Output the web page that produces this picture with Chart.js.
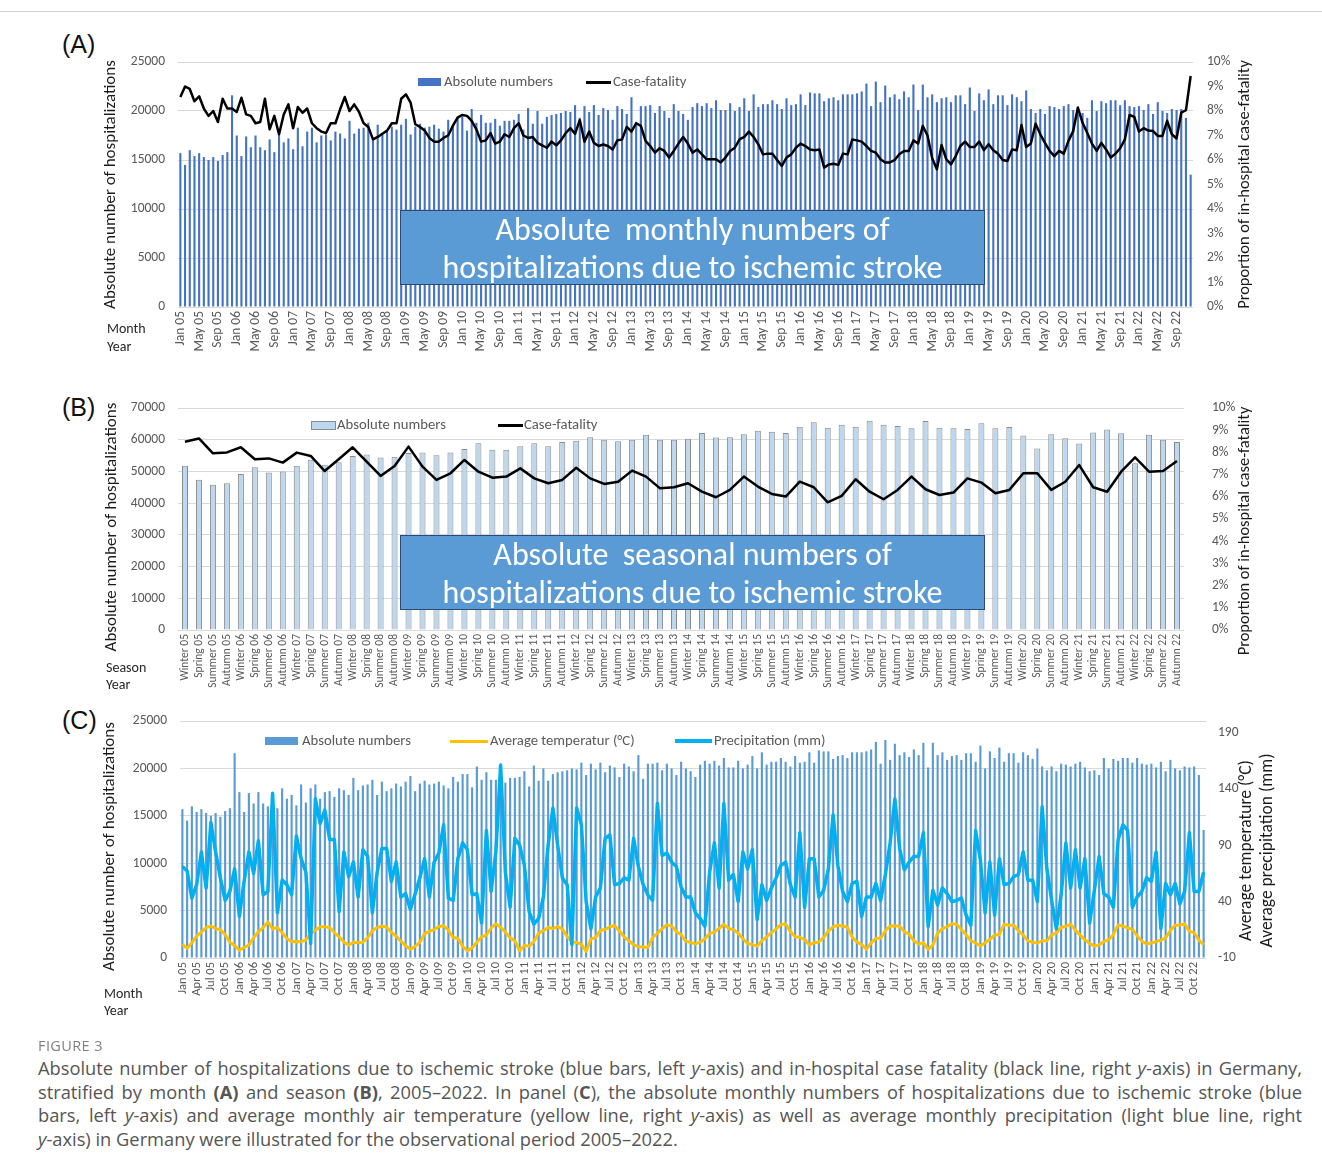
<!DOCTYPE html>
<html lang="en">
<head>
<meta charset="UTF-8">
<title>Ischemic stroke hospitalizations, Germany 2005-2022</title>
<style>
  html, body { margin: 0; padding: 0; background: #fff; }
  #page { position: relative; width: 1322px; height: 1162px; overflow: hidden; font-family: Calibri, Carlito, Lato, sans-serif; }
  canvas { position: absolute; left: 0; }
  .abs { position: absolute; white-space: nowrap; }
  .letter { font-family: "Liberation Sans", Arial, sans-serif; font-size: 25px; color: #111; }
  .small { font-size: 14px; color: #262626; line-height: 17px; }
  .leg { font-size: 14.7px; color: #595959; line-height: 17px; }
  .box { position: absolute; left: 400px; width: 583px; height: 73px; background: #5b9bd5; border: 1.5px solid #2b4a78;
         color: #fff; font-size: 32px; line-height: 38px; text-align: center; white-space: pre; z-index: 5; }
  .cap { position: absolute; left: 38px; width: 1264px; font-family: "Open Sans", sans-serif; color: #555; }
  .cap div { font-size: 18.3px; line-height: 23.7px; text-align: justify; text-align-last: justify; white-space: nowrap; }
  .cap div.last { text-align-last: left; }
</style>
</head>
<body>
<div id="page">
  <div class="abs" style="left:0;top:11px;width:1322px;height:1px;background:#d0d0d0"></div>

  <div class="abs letter" style="left:62px;top:30px">(A)</div>
  <div class="abs letter" style="left:62px;top:393px">(B)</div>
  <div class="abs letter" style="left:62px;top:706px">(C)</div>

  <canvas id="chartA" width="1322" height="345" style="top:22px"></canvas>
  <canvas id="chartB" width="1322" height="322" style="top:368px"></canvas>
  <canvas id="chartC" width="1322" height="327" style="top:681px"></canvas>

  <div class="abs small" style="left:107px;top:320px">Month</div>
  <div class="abs small" style="left:107px;top:338px">Year</div>
  <div class="abs small" style="left:106px;top:659px">Season</div>
  <div class="abs small" style="left:106px;top:676px">Year</div>
  <div class="abs small" style="left:104px;top:985px">Month</div>
  <div class="abs small" style="left:104px;top:1002px">Year</div>

  <!-- legends -->
  <div class="abs" style="left:418px;top:78px;width:23px;height:8px;background:#4472c4"></div>
  <div class="abs leg" style="left:444px;top:73px">Absolute numbers</div>
  <div class="abs" style="left:586px;top:81px;width:25px;height:2.5px;background:#000"></div>
  <div class="abs leg" style="left:613px;top:73px">Case-fatality</div>

  <div class="abs" style="left:311px;top:421px;width:23px;height:7px;background:#bdd7ee;border:1px solid #8a8a8a"></div>
  <div class="abs leg" style="left:337px;top:416px">Absolute numbers</div>
  <div class="abs" style="left:498px;top:424px;width:25px;height:2.5px;background:#000"></div>
  <div class="abs leg" style="left:524px;top:416px">Case-fatality</div>

  <div class="abs" style="left:265px;top:737px;width:33px;height:8px;background:#5b9bd5"></div>
  <div class="abs leg" style="left:302px;top:732px">Absolute numbers</div>
  <div class="abs" style="left:450px;top:740px;width:38px;height:3px;background:#ffc000"></div>
  <div class="abs leg" style="left:490px;top:732px">Average temperatur (°C)</div>
  <div class="abs" style="left:675px;top:739px;width:37px;height:4px;background:#00b0f0"></div>
  <div class="abs leg" style="left:714px;top:732px">Precipitation (mm)</div>

  <div class="box" style="top:210px">Absolute  monthly numbers of
hospitalizations due to ischemic stroke</div>
  <div class="box" style="top:535px">Absolute  seasonal numbers of
hospitalizations due to ischemic stroke</div>

  <div class="abs" style="left:38px;top:1036px;font-family:'Open Sans',sans-serif;font-size:14.5px;color:#808080;letter-spacing:0.4px">FIGURE 3</div>
  <div class="cap" style="top:1056px">
    <div>Absolute number of hospitalizations due to ischemic stroke (blue bars, left <i>y</i>-axis) and in-hospital case fatality (black line, right <i>y</i>-axis) in Germany,</div>
    <div>stratified by month <b>(A)</b> and season <b>(B)</b>, 2005–2022. In panel (<b>C</b>), the absolute monthly numbers of hospitalizations due to ischemic stroke (blue</div>
    <div>bars, left <i>y</i>-axis) and average monthly air temperature (yellow line, right <i>y</i>-axis) as well as average monthly precipitation (light blue line, right</div>
    <div class="last"><i>y</i>-axis) in Germany were illustrated for the observational period 2005–2022.</div>
  </div>
</div>

<script src="https://cdn.jsdelivr.net/npm/chart.js@4.4.1/dist/chart.umd.min.js"></script>
<script>
// ---- categories ----
var monthAbbr = ['Jan','Feb','Mar','Apr','May','Jun','Jul','Aug','Sep','Oct','Nov','Dec'];
var seasonNames = ['Winter','Spring','Summer','Autumn'];
var yearLabels = ['05','06','07','08','09','10','11','12','13','14','15','16','17','18','19','20','21','22'];

// ---- monthly hospitalizations (panels A and C) ----
var hospMonthly = [
  15700,14500,16000,15400,15700,15300,15000,15300,14900,15500,15800,21600,
  17500,15400,17400,16300,17500,16300,16000,17100,15800,17900,16800,17200,
  16100,18300,16400,17900,18300,16800,17500,17600,17000,17900,17700,17200,
  19000,17700,18200,18300,18800,17200,18600,17600,17900,18400,18100,18600,
  19200,17600,18400,18700,18300,18400,18600,18200,17900,19100,18600,19400,
  19400,18000,20200,18800,19600,18800,18800,19200,18500,19000,19000,19100,
  19700,18100,20300,18700,20000,18700,19400,19600,19700,19800,20000,19900,
  20600,19300,20500,19900,20600,19600,20300,20100,19100,20500,20200,19700,
  21400,18900,20500,20500,20600,19800,20500,20000,19300,20700,20000,19700,
  19100,20400,20800,20500,20800,20300,21100,20100,20100,20800,20000,20400,
  21300,20000,21700,20400,20700,20700,21100,20700,20200,21300,20600,20700,
  21700,20600,21900,21800,21800,21000,21300,21400,21100,21700,21700,21700,
  21800,22000,22800,20500,23000,20900,22600,21400,21700,21200,22000,21400,
  22700,20100,22700,21400,21700,20900,21300,21400,20900,21600,21600,20700,
  22400,20000,21800,21100,22200,20700,21600,21600,20600,21700,21400,21000,
  22100,20200,19800,20200,19700,20500,20400,20200,20500,20700,20100,19700,
  19800,19300,21100,20000,21000,20800,21100,21100,20600,21100,20500,20400,
  20500,20100,20700,19700,20900,20000,19800,20200,20100,20200,19300,13500
];

// ---- monthly in-hospital case-fatality, % (panel A) ----
var cfMonthly = [
  8.57,9.0,8.9,8.4,8.6,8.1,7.8,8.0,7.55,8.5,8.1,8.1,
  7.96,8.54,7.86,7.8,7.5,7.55,8.5,7.25,7.8,7.05,7.86,8.27,
  7.3,8.16,7.93,8.1,7.5,7.3,7.16,7.1,7.5,7.5,8.07,8.57,
  8.0,8.27,7.97,7.5,7.35,6.84,6.94,7.07,7.2,7.5,7.5,8.5,
  8.68,8.34,7.46,7.35,7.2,6.9,6.75,6.75,6.9,7.0,7.4,7.73,
  7.84,7.8,7.6,7.25,6.75,6.8,7.1,6.67,6.75,7.05,6.94,7.3,
  7.5,7.0,6.9,6.94,6.7,6.6,6.5,6.75,6.6,6.8,7.1,7.3,
  7.07,7.63,6.75,7.16,6.7,6.57,6.63,6.57,6.43,6.8,6.84,7.35,
  7.16,7.5,7.39,6.78,6.57,6.3,6.48,6.37,6.1,6.37,6.67,6.94,
  6.67,6.3,6.43,6.23,6.03,6.03,6.03,5.9,6.1,6.37,6.5,6.84,
  6.94,7.16,6.94,6.64,6.23,6.26,6.26,6.0,5.76,6.1,6.23,6.5,
  6.67,6.57,6.43,6.4,6.43,5.69,5.82,5.85,5.8,6.26,6.23,6.84,
  6.8,6.75,6.57,6.37,6.3,6.03,5.9,5.9,6.0,6.23,6.37,6.37,
  6.8,6.67,7.39,7.0,6.07,5.62,6.61,6.03,5.82,6.16,6.57,6.75,
  6.53,6.53,6.75,6.4,6.64,6.4,6.26,6.0,5.96,6.43,6.4,7.43,
  6.53,6.67,7.48,7.05,6.7,6.37,6.16,6.37,6.26,6.78,7.18,8.14,
  7.52,7.1,6.67,6.37,6.7,6.43,6.1,6.26,6.48,6.84,7.84,7.76,
  7.16,7.3,7.2,7.18,6.98,6.98,7.6,7.05,6.88,7.93,8.03,9.43
];

// ---- seasonal hospitalizations and case-fatality (panel B) ----
var hospSeason = [
  51800,47400,45800,46300, 49200,51300,49700,50000, 51800,53700,52100,52900,
  54900,55300,54400,54600, 55800,56000,55100,56000, 57100,58900,56800,56800,
  57900,58900,57900,59300, 59700,60800,60000,59500, 60000,61600,60000,60000,
  60300,62100,60700,60800, 61700,62800,62500,62100, 64100,65500,63800,64700,
  64100,66000,64700,64300, 63600,65900,63800,63600, 63400,65200,63600,64000,
  61300,57200,61700,60500, 58800,62300,63200,62000, 52600,61600,60000,59300
];
var cfSeason = [
  8.48,8.63,7.96,8.0, 8.23,7.69,7.73,7.54, 7.99,7.84,7.16,7.69,
  8.23,7.58,6.94,7.39, 8.26,7.36,6.76,7.06, 7.66,7.13,6.86,6.91,
  7.28,6.83,6.61,6.76, 7.31,6.83,6.58,6.68, 7.18,6.91,6.38,6.43,
  6.61,6.23,5.98,6.31, 6.91,6.46,6.13,6.01, 6.68,6.43,5.75,6.04,
  6.79,6.23,5.89,6.31, 6.91,6.34,6.08,6.19, 6.83,6.64,6.16,6.31,
  7.06,7.06,6.31,6.68, 7.43,6.43,6.23,7.13, 7.78,7.13,7.16,7.61
];

// ---- monthly weather (panel C) ----
var tempMonthly = [
  2.0,-1.4,3.5,9.5,12.9,16.9,18.3,16.1,15.1,10.7,4.0,1.0,
  -3.0,-0.7,1.4,8.0,13.2,16.9,22.0,15.8,17.0,12.4,7.3,4.4,
  4.7,4.5,6.0,11.6,14.6,17.8,17.7,17.0,12.6,8.6,4.1,1.3,
  3.9,3.6,4.0,7.9,14.3,16.9,18.1,17.4,12.7,9.3,4.9,0.9,
  -2.2,0.2,4.0,11.6,13.6,15.2,18.0,18.6,14.7,8.1,7.6,0.4,
  -3.6,-1.0,4.0,8.8,10.2,16.6,20.3,17.2,12.9,7.8,5.3,-3.6,
  1.1,0.3,4.6,11.9,14.2,17.0,16.1,17.8,15.6,9.2,4.1,3.8,
  2.0,-4.1,6.9,8.1,14.5,15.2,17.7,18.8,13.9,8.8,5.3,1.7,
  0.0,-0.3,-0.8,8.3,11.8,16.0,19.5,18.3,13.3,10.7,4.7,3.7,
  2.5,4.0,7.0,11.8,12.9,16.3,19.9,16.2,15.1,12.2,7.1,2.8,
  1.9,0.5,5.3,8.7,12.6,15.8,19.7,20.2,13.4,8.8,8.3,6.4,
  1.6,3.6,4.2,8.0,14.0,17.5,19.1,18.2,17.4,8.5,4.2,1.9,
  -2.2,3.4,7.4,7.6,14.2,18.2,18.5,18.2,13.2,11.1,5.2,2.3,
  3.6,-2.4,1.4,12.1,16.0,17.6,20.3,20.0,15.3,10.6,5.1,3.4,
  0.6,3.5,6.6,10.3,10.9,19.8,19.0,19.0,14.1,10.4,5.2,3.9,
  3.3,5.3,5.2,10.5,12.2,17.1,18.1,20.0,14.7,10.3,6.3,2.8,
  0.5,1.5,4.6,6.1,10.9,19.3,18.3,16.6,15.6,9.6,4.8,2.6,
  3.2,4.6,5.7,7.9,14.3,19.0,19.3,20.4,13.6,12.6,6.0,1.8
];
var precipMonthly = [
  71,67,43,55,84,52,110,84,61,41,49,69,
  27,58,84,65,94,46,49,136,30,59,55,46,
  98,78,66,3,131,109,121,95,95,31,84,62,
  75,44,86,80,30,66,87,87,58,75,44,47,
  33,47,61,78,44,75,83,108,43,41,78,92,
  86,46,47,21,103,49,84,161,66,35,96,90,
  72,31,20,25,44,90,123,90,61,55,2,123,
  108,40,16,44,52,96,99,55,56,61,59,96,
  71,55,46,41,127,81,83,75,71,53,44,44,
  30,25,18,66,92,52,127,59,64,40,84,69,
  86,24,55,41,52,61,72,75,55,44,101,35,
  78,78,44,50,69,117,72,49,40,56,58,27,
  44,44,56,41,64,92,131,87,68,75,80,80,
  101,18,50,37,52,47,40,41,43,28,19,103,
  77,30,75,28,78,55,56,62,64,84,59,59,
  40,124,69,41,16,46,92,52,86,52,78,21,
  50,80,47,44,35,95,108,103,35,44,49,61,
  58,84,16,56,46,56,38,49,101,49,49,66
];
var weatherTicks = [-10, 40, 90, 140, 190];

// build category labels
var monthLabels = [], seasonLabels = [];
yearLabels.forEach(function (y) {
  monthAbbr.forEach(function (m) { monthLabels.push(m + ' ' + y); });
  seasonNames.forEach(function (s) { seasonLabels.push(s + ' ' + y); });
});

var FONT = 'Calibri, Carlito, Lato, sans-serif';
var TICK = '#595959';
var GRID = '#d9d9d9';
Chart.defaults.font.family = FONT;
Chart.defaults.color = TICK;

// vertical axis titles, reading bottom to top
var axisTitles = {
  id: 'axisTitles',
  afterDraw: function (chart, args, opts) {
    var ctx = chart.ctx, area = chart.chartArea;
    (opts.items || []).forEach(function (t) {
      ctx.save();
      ctx.translate(t.x, (area.top + area.bottom) / 2 + (t.dy || 0));
      ctx.rotate(-Math.PI / 2);
      ctx.font = (t.size || 17) + 'px ' + FONT;
      ctx.fillStyle = '#1a1a1a';
      ctx.textAlign = 'center';
      ctx.textBaseline = 'middle';
      ctx.fillText(t.text, 0, 0);
      ctx.restore();
    });
  }
};

function fixW(w) { return function (s) { s.width = w; }; }
function fixH(h) { return function (s) { s.height = h; }; }
function plain(v) { return String(v); }

function xAxis(labels, every, size, h) {
  return {
    type: 'category',
    grid: { display: false, drawTicks: false },
    border: { display: false },
    afterFit: fixH(h),
    ticks: {
      autoSkip: false, minRotation: 90, maxRotation: 90, padding: 4,
      font: { size: size }, color: TICK,
      callback: function (v, i) { return i % every === 0 ? labels[i] : ''; }
    }
  };
}

function baseOpts(padding, scales, titles) {
  return {
    responsive: false,
    animation: false,
    devicePixelRatio: 1,
    layout: { padding: padding },
    scales: scales,
    plugins: {
      legend: { display: false },
      tooltip: { enabled: false },
      axisTitles: { items: titles }
    }
  };
}

// ---- panel A ----
new Chart(document.getElementById('chartA'), {
  data: {
    labels: monthLabels,
    datasets: [
      { type: 'line', label: 'Case-fatality', data: cfMonthly, yAxisID: 'y1', order: 0,
        borderColor: '#000', borderWidth: 2.5, pointRadius: 0, tension: 0, borderJoinStyle: 'round' },
      { type: 'bar', label: 'Absolute numbers', data: hospMonthly, yAxisID: 'y', order: 1,
        backgroundColor: '#4472c4', categoryPercentage: 1, barPercentage: 0.45 }
    ]
  },
  options: baseOpts({ left: 100, right: 69, top: 40, bottom: 0 }, {
    x: xAxis(monthLabels, 4, 13.5, 60),
    y: { position: 'left', min: 0, max: 25000, afterFit: fixW(78),
         ticks: { stepSize: 5000, padding: 13, font: { size: 13.5 }, callback: plain },
         grid: { color: GRID, drawTicks: false }, border: { display: false } },
    y1: { position: 'right', min: 0, max: 10, afterFit: fixW(60),
          ticks: { stepSize: 1, padding: 14, font: { size: 13.5 }, callback: function (v) { return v + '%'; } },
          grid: { display: false, drawTicks: false }, border: { display: false } }
  }, [
    { text: 'Absolute number of hospitalizations', x: 111 },
    { text: 'Proportion of in-hospital case-fatality', x: 1245, size: 16.5 }
  ]),
  plugins: [axisTitles]
});

// ---- panel B ----
new Chart(document.getElementById('chartB'), {
  data: {
    labels: seasonLabels,
    datasets: [
      { type: 'line', label: 'Case-fatality', data: cfSeason, yAxisID: 'y1', order: 0,
        borderColor: '#000', borderWidth: 2.5, pointRadius: 0, tension: 0, borderJoinStyle: 'round' },
      { type: 'bar', label: 'Absolute numbers', data: hospSeason, yAxisID: 'y', order: 1,
        backgroundColor: '#bdd7ee', borderColor: '#8a8a8a', borderWidth: 1,
        categoryPercentage: 1, barPercentage: 0.43 }
    ]
  },
  options: baseOpts({ left: 100, right: 78, top: 40, bottom: 0 }, {
    x: xAxis(seasonLabels, 1, 11.5, 60),
    y: { position: 'left', min: 0, max: 70000, afterFit: fixW(78),
         ticks: { stepSize: 10000, padding: 13, font: { size: 13.5 }, callback: plain },
         grid: { color: GRID, drawTicks: false }, border: { display: false } },
    y1: { position: 'right', min: 0, max: 10, afterFit: fixW(60),
          ticks: { stepSize: 1, padding: 28, font: { size: 13.5 }, callback: function (v) { return v + '%'; } },
          grid: { display: false, drawTicks: false }, border: { display: false } }
  }, [
    { text: 'Absolute number of hospitalizations', x: 112, dy: 8 },
    { text: 'Proportion of in-hospital case-fatality', x: 1245, size: 16.5, dy: 12 }
  ]),
  plugins: [axisTitles]
});

// ---- panel C ----
new Chart(document.getElementById('chartC'), {
  data: {
    labels: monthLabels,
    datasets: [
      { type: 'line', label: 'Precipitation (mm)', data: precipMonthly, yAxisID: 'y1', order: 0,
        borderColor: '#00b0f0', borderWidth: 3.5, pointRadius: 0, tension: 0, borderJoinStyle: 'round' },
      { type: 'line', label: 'Average temperatur (°C)', data: tempMonthly, yAxisID: 'y1', order: 1,
        borderColor: '#ffc000', borderWidth: 3, pointRadius: 0, tension: 0, borderJoinStyle: 'round' },
      { type: 'bar', label: 'Absolute numbers', data: hospMonthly, yAxisID: 'y', order: 2,
        backgroundColor: '#5b9bd5', categoryPercentage: 1, barPercentage: 0.45 }
    ]
  },
  options: baseOpts({ left: 102, right: 76, top: 40, bottom: 0 }, {
    x: xAxis(monthLabels, 3, 12.5, 50),
    y: { position: 'left', min: 0, max: 25000, afterFit: fixW(78),
         ticks: { stepSize: 5000, padding: 13, font: { size: 13.5 }, callback: plain },
         grid: { color: GRID, drawTicks: false }, border: { display: false } },
    y1: { position: 'right', min: -10, max: 200, afterFit: fixW(40),
          afterBuildTicks: function (s) { s.ticks = weatherTicks.map(function (v) { return { value: v }; }); },
          ticks: { padding: 12, font: { size: 13.5 } },
          grid: { display: false, drawTicks: false }, border: { display: false } }
  }, [
    { text: 'Absolute number of hospitalizations', x: 110, dy: 7 },
    { text: 'Average temperature (°C)', x: 1247, dy: 11, size: 17.5 },
    { text: 'Average precipitation (mm)', x: 1268, dy: 11, size: 17.5 }
  ]),
  plugins: [axisTitles]
});
</script>
</body>
</html>
